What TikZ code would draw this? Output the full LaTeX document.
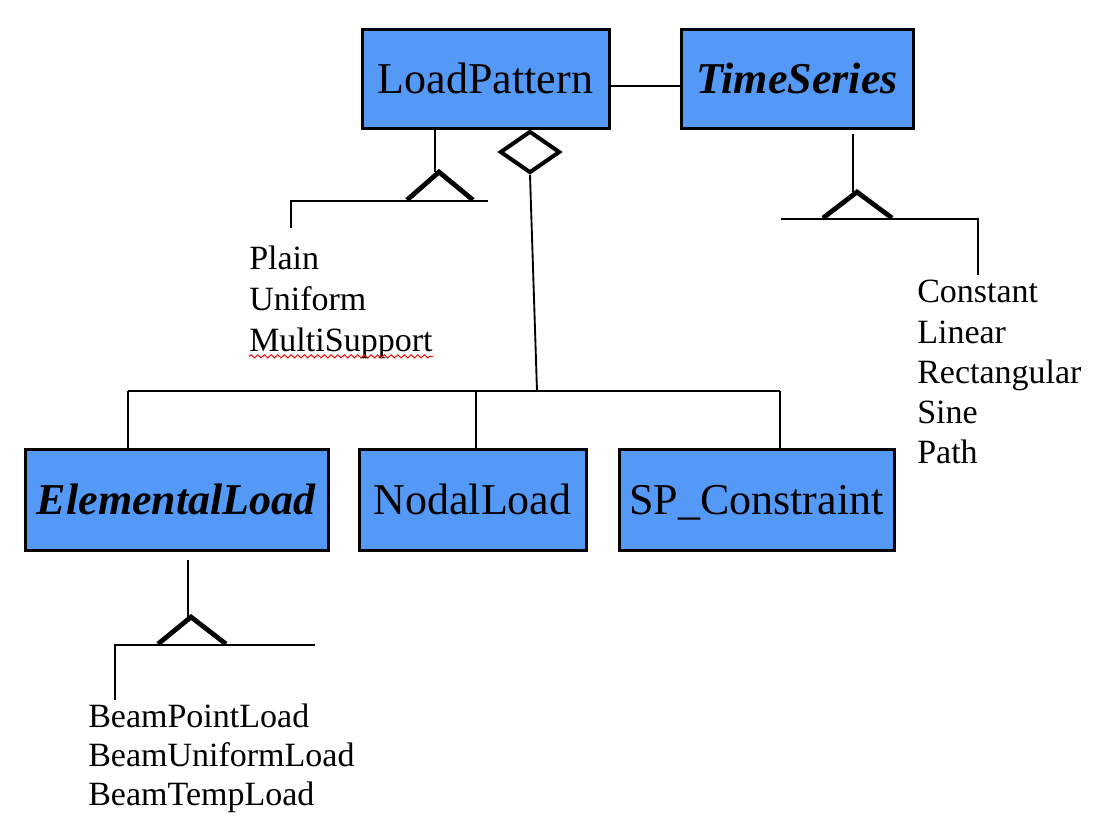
\documentclass[tikz,border=0pt]{standalone}
\usepackage{fontspec}
\setmainfont{Liberation Serif}
\usetikzlibrary{shapes.geometric,decorations.pathmorphing}
\definecolor{boxblue}{RGB}{84,153,245}
\begin{document}
\begin{tikzpicture}[x=0.75pt,y=-0.75pt,
  cls/.style={draw=black, line width=2.25pt, fill=boxblue, inner sep=0pt,
    font=\fontsize{33pt}{40pt}\selectfont, text height=22pt, text depth=0pt},
  conn/.style={line width=1.4pt},
  tri/.style={line width=3.6pt},
  agg/.style={draw=black, diamond, line width=3pt, inner sep=0pt, fill=white},
  lst/.style={anchor=base west, inner sep=0pt, font=\fontsize{25.5pt}{30pt}\selectfont}]
\useasboundingbox (0,0) rectangle (1114,826);

% class boxes
\node[cls, minimum width=185.25pt, minimum height=74.25pt] (lp) at (485.5,78.5) {LoadPattern};
\node[cls, minimum width=174pt, minimum height=74.25pt] (ts) at (797,78.5) {\textbf{\textit{TimeSeries}}};
\node[cls, minimum width=227.25pt, minimum height=75.75pt] (el) at (176.5,499.5) {\textbf{\textit{ElementalLoad}}};
\node[cls, minimum width=170.25pt, minimum height=75.75pt] (nl) at (472.5,499.5) {NodalLoad};
\node[cls, minimum width=206.25pt, minimum height=75.75pt] (sp) at (756.5,499.5) {SP\_Constraint};

% association LoadPattern -- TimeSeries
\coordinate (assoc) at (640,86);
\draw[conn] (lp.east |- assoc) -- (ts.west |- assoc);

% aggregation diamond and bus
\node[agg, minimum width=45pt, minimum height=31.5pt] (dia) at (530,152) {};
\coordinate (busc) at (537,391);
\coordinate (busl) at (128,391);
\coordinate (busm) at (476,391);
\coordinate (busr) at (780,391);
\draw[conn] (dia.south) -- (busc);
\draw[conn] (busl) -- (busr);
\draw[conn] (busl) -- (busl |- el.north);
\draw[conn] (busm) -- (busm |- nl.north);
\draw[conn] (busr) -- (busr |- sp.north);

% LoadPattern subclasses
\coordinate (lpv) at (435,172);
\coordinate (lpa) at (439,172);
\coordinate (lpl) at (291,201);
\coordinate (lpr) at (488,201);
\coordinate (lpd) at (291,228);
\draw[conn] (lp.south -| lpv) -- (lpv);
\draw[tri] ([shift={(-32,28)}]lpa) -- (lpa) -- ([shift={(34,28)}]lpa);
\draw[conn] (lpr) -- (lpl) -- (lpd);
\node[lst] (plain) at (249,269) {Plain};
\node[lst] (uniform) at (249,310) {Uniform};
\node[lst] (multi) at (249,351) {MultiSupport};
\draw[red, line width=0.7pt, decorate, decoration={snake, amplitude=1.2pt, segment length=5pt}]
  ([yshift=-4pt]multi.base west) -- ([yshift=-4pt]multi.base east);

% TimeSeries subclasses
\coordinate (tsv) at (853,192);
\coordinate (tsa) at (857,192);
\coordinate (tsl) at (781,219);
\coordinate (tsr) at (978,219);
\coordinate (tsd) at (978,275);
\draw[conn] ([yshift=-3.5pt]ts.south -| tsv) -- (tsv);
\draw[tri] ([shift={(-34,26)}]tsa) -- (tsa) -- ([shift={(35,26)}]tsa);
\draw[conn] (tsl) -- (tsr) -- (tsd);
\node[lst] (const) at (917,302) {Constant};
\node[lst] (linear) at (917,343) {Linear};
\node[lst] (rect) at (917,383) {Rectangular};
\node[lst] (sine) at (917,423) {Sine};
\node[lst] (path) at (917,463) {Path};

% ElementalLoad subclasses
\coordinate (elv) at (188,617);
\coordinate (ela) at (191,617);
\coordinate (ell) at (115,645);
\coordinate (elr) at (315,645);
\coordinate (eld) at (115,700);
\draw[conn] ([yshift=-6pt]el.south -| elv) -- (elv);
\draw[tri] ([shift={(-33,27)}]ela) -- (ela) -- ([shift={(35,27)}]ela);
\draw[conn] (elr) -- (ell) -- (eld);
\node[lst] (bpl) at (88,727) {BeamPointLoad};
\node[lst] (bul) at (88,766) {BeamUniformLoad};
\node[lst] (btl) at (88,805) {BeamTempLoad};
\end{tikzpicture}
\end{document}
